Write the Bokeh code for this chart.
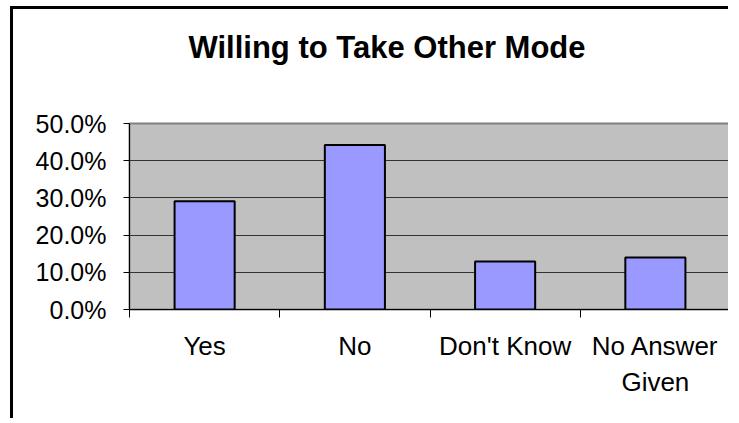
import numpy as np
from bokeh.plotting import figure
from bokeh.models import FixedTicker, NumeralTickFormatter, Range1d, Title
from bokeh.embed import file_html
from bokeh.resources import INLINE

title_text = "Willing to Take Other Mode"
categories = ["Yes", "No", "Don't Know", "No Answer\nGiven"]
values = [0.291, 0.442, 0.129, 0.140]
y_ticks = [0.0, 0.1, 0.2, 0.3, 0.4, 0.5]

FONT = "Liberation Sans"
n = len(categories)
xs = np.arange(n) + 0.5

p = figure(width=718, height=412, output_backend="svg", toolbar_location=None,
           x_range=Range1d(0, n), y_range=Range1d(0, 0.5),
           min_border_left=116, min_border_right=1, min_border_top=114, min_border_bottom=112)
p.title_location = None
p.styles = {"margin-left": "10px", "margin-top": "6px",
            "border-left": "3px solid black", "border-top": "3px solid black"}
p.background_fill_color = "#C0C0C0"
p.border_fill_color = "white"
p.outline_line_color = "#808080"
p.outline_line_width = 2

# spacer between frame and title, then the title itself
p.add_layout(Title(text=" ", text_font_size="10px", standoff=29), "above")
p.add_layout(Title(text=title_text, text_font=FONT, text_font_size="31px",
                   text_font_style="bold", text_color="black", align="left",
                   offset=59, standoff=34), "above")

p.vbar(x=xs, top=values, width=0.4, fill_color="#9999FF", line_color="black", line_width=2)

# y axis
p.yaxis.ticker = FixedTicker(ticks=y_ticks)
p.yaxis.formatter = NumeralTickFormatter(format="0.0%")
p.yaxis.major_label_text_font = FONT
p.yaxis.major_label_text_font_size = "25px"
p.yaxis.major_label_text_color = "black"
p.yaxis.major_tick_out = 6
p.yaxis.major_tick_in = 0
p.yaxis.minor_tick_out = 0
p.yaxis.minor_tick_in = 0
p.yaxis.major_label_standoff = 17
p.yaxis.axis_line_color = "black"
p.yaxis.major_tick_line_color = "black"

# x axis
p.xaxis.ticker = FixedTicker(ticks=list(xs), minor_ticks=list(range(n + 1)))
p.xaxis.major_label_overrides = {float(x): c for x, c in zip(xs, categories)}
p.xaxis.major_label_text_font = FONT
p.xaxis.major_label_text_font_size = "26px"
p.xaxis.major_label_text_color = "black"
p.xaxis.major_tick_out = 0
p.xaxis.major_tick_in = 0
p.xaxis.minor_tick_out = 8
p.xaxis.minor_tick_in = 0
p.xaxis.minor_tick_line_color = "black"
p.xaxis.major_label_standoff = 13
p.xaxis.axis_line_color = "black"

p.xgrid.visible = False
p.ygrid.ticker = FixedTicker(ticks=y_ticks)
p.ygrid.grid_line_color = "#333333"
p.ygrid.grid_line_width = 1

open("out.html", "w").write(file_html(p, INLINE))
